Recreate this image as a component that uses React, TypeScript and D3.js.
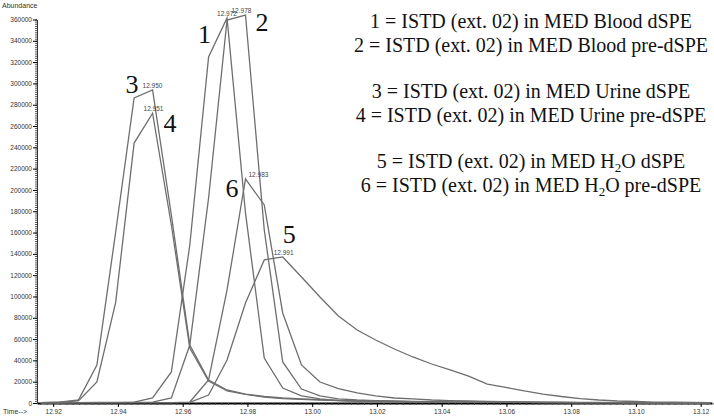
import { useEffect, useRef } from "react";
import * as d3 from "d3";

// scan times (min), shared by all six traces
const scanTimes = [
  12.9163, 12.922, 12.9278, 12.9335, 12.9393, 12.945, 12.9507, 12.9565, 12.9622, 12.968,
  12.9737, 12.9794, 12.9852, 12.9909, 12.9967, 13.0024, 13.0081, 13.0139, 13.0196, 13.0254,
  13.0311, 13.0369, 13.0426, 13.0483, 13.0541, 13.0598, 13.0655, 13.0713, 13.077, 13.0828,
  13.0885, 13.0942, 13.1, 13.1057, 13.1115, 13.1172, 13.123,
];

const bloodDspe = [
  300, 300, 400, 500, 600, 900, 4700, 29100, 148300, 324800, 361400, 178400, 42200, 14100, 6600,
  3800, 2300, 1900, 1500, 1200, 1000, 900, 800, 700, 600, 500, 500, 400, 400, 300, 300, 300, 200,
  200, 200, 200, 200,
];
const bloodPre = [
  200, 300, 300, 300, 400, 500, 900, 4700, 54400, 192400, 359500, 364200, 162400, 38500, 13100,
  6600, 3800, 2800, 2300, 1900, 1500, 1200, 1000, 900, 800, 700, 600, 500, 500, 400, 400, 300, 300,
  300, 200, 200, 200,
];
const urineDspe = [
  300, 900, 2800, 35700, 160500, 286300, 293800, 176500, 54400, 21600, 12200, 8400, 6100, 4700,
  3800, 3100, 2500, 2100, 1800, 1500, 1200, 1000, 900, 800, 700, 600, 500, 500, 400, 400, 300, 300,
  300, 200, 200, 200, 200,
];
const urinePre = [
  300, 900, 1900, 19700, 94400, 244000, 272000, 167100, 51600, 20700, 11300, 8000, 5600, 4200,
  3400, 2800, 2300, 1900, 1600, 1300, 1100, 900, 800, 700, 600, 500, 500, 400, 400, 300, 300, 300,
  200, 200, 200, 200, 200,
];
const waterDspe = [
  200, 200, 300, 300, 300, 300, 300, 300, 500, 7500, 40400, 93900, 134300, 137100, 118300, 99500,
  81700, 68500, 59100, 50700, 43200, 36600, 31000, 25300, 17800, 14600, 11300, 8400, 6100, 4200,
  2800, 1900, 1400, 900, 700, 500, 400,
];
const waterPre = [
  200, 200, 300, 300, 300, 300, 300, 300, 900, 21600, 106100, 210300, 185900, 84500, 35700, 19700,
  13600, 9400, 6600, 4700, 3800, 2800, 2300, 1900, 1500, 1200, 1000, 800, 700, 600, 500, 400, 400,
  300, 300, 200, 200,
];

const traces = [bloodDspe, bloodPre, urineDspe, urinePre, waterDspe, waterPre];
const traceNumbers = ["1", "2", "3", "4", "5", "6"];
const apexLabels = ["12.972", "12.978", "12.950", "12.951", "12.991", "12.983"];

const yTicks = d3.range(0, 360001, 20000);
const xTicks = [12.92, 12.94, 12.96, 12.98, 13.0, 13.02, 13.04, 13.06, 13.08, 13.1, 13.12];

const legendSamples = [
  ["1", "Blood dSPE"],
  ["2", "Blood pre-dSPE"],
  ["3", "Urine dSPE"],
  ["4", "Urine pre-dSPE"],
  ["5", "H2O dSPE"],
  ["6", "H2O pre-dSPE"],
];

export default function App() {
  const ref = useRef<SVGSVGElement>(null);

  useEffect(() => {
    const svg = d3.select(ref.current);
    svg.selectAll("*").remove();

    const x = d3.scaleLinear().domain([12.915, 13.1235]).range([37, 712]);
    const y = d3.scaleLinear().domain([0, 360000]).range([403, 19.5]);

    const tickFont = "'Liberation Sans', Arial, sans-serif";
    const serif = "'Liberation Serif', 'Times New Roman', serif";

    // y axis, minor ticks then major
    svg.append("g")
      .attr("transform", "translate(37,0)")
      .call(d3.axisLeft(y).tickValues(d3.range(0, 362000, 2000)).tickSize(2).tickSizeOuter(0).tickFormat(() => ""))
      .call(g => g.selectAll("line").attr("stroke", "#555"))
      .call(g => g.select(".domain").attr("stroke", "#333"));
    svg.append("g")
      .attr("transform", "translate(37,0)")
      .call(d3.axisLeft(y).tickValues(yTicks).tickSize(4).tickSizeOuter(0).tickPadding(1).tickFormat(d => `${d}`))
      .call(g => g.select(".domain").remove())
      .call(g => g.selectAll("text").attr("font-size", 6.5).attr("font-family", tickFont).attr("fill", "#333"));

    // x axis
    svg.append("g")
      .attr("transform", "translate(0,403)")
      .call(d3.axisBottom(x).tickValues(d3.range(12.916, 13.124, 0.002)).tickSize(2).tickSizeOuter(0).tickFormat(() => ""))
      .call(g => g.selectAll("line").attr("stroke", "#444"))
      .call(g => g.select(".domain").attr("stroke", "#000").attr("stroke-width", 2));
    svg.append("g")
      .attr("transform", "translate(0,403)")
      .call(d3.axisBottom(x).tickValues(xTicks).tickSize(4).tickSizeOuter(0).tickPadding(2).tickFormat(d3.format(".2f")))
      .call(g => g.select(".domain").remove())
      .call(g => g.selectAll("text").attr("font-size", 6.5).attr("font-family", tickFont).attr("fill", "#333"));

    svg.append("text").text("Abundance").attr("x", 2).attr("y", 8)
      .attr("font-size", 7).attr("font-family", tickFont).attr("fill", "#333");
    svg.append("text").text("Time-->").attr("x", 3).attr("y", 414)
      .attr("font-size", 7).attr("font-family", tickFont).attr("fill", "#333");

    // traces
    const line = d3.line<number>().x((_, i) => x(scanTimes[i])).y(d => y(d));
    traces.forEach(vals => {
      svg.append("path").attr("d", line(vals)!)
        .attr("fill", "none").attr("stroke", "#6e6e6e").attr("stroke-width", 1.3);
    });

    // apex retention-time labels
    const labelDx = [-10, -14, -10, -9, -9, 3];
    traces.forEach((vals, i) => {
      const k = d3.maxIndex(vals);
      svg.append("text").text(apexLabels[i])
        .attr("x", x(scanTimes[k]) + labelDx[i]).attr("y", y(vals[k]) - 2)
        .attr("font-size", 6.5).attr("font-family", tickFont).attr("fill", "#444");
    });

    // big trace numbers
    const numPos = [[-29, 25], [10, 16], [-27, 3], [11, 19], [0, -14], [-20, 18]];
    traces.forEach((vals, i) => {
      const k = d3.maxIndex(vals);
      svg.append("text").text(traceNumbers[i])
        .attr("x", x(scanTimes[k]) + numPos[i][0]).attr("y", y(vals[k]) + numPos[i][1])
        .attr("font-size", 26).attr("font-family", serif).attr("fill", "#111");
    });

    // legend text
    const legendY = [28, 52, 98, 122, 168, 192];
    legendSamples.forEach(([n, s], i) => {
      const t = svg.append("text").attr("x", 531).attr("y", legendY[i])
        .attr("text-anchor", "middle").attr("font-size", 20)
        .attr("font-family", serif).attr("fill", "#111");
      if (s.startsWith("H2O")) {
        t.append("tspan").text(`${n} = ISTD (ext. 02) in MED H`);
        t.append("tspan").text("2").attr("font-size", 13).attr("dy", 4);
        t.append("tspan").text(`O${s.slice(3)}`).attr("dy", -4);
      } else {
        t.text(`${n} = ISTD (ext. 02) in MED ${s}`);
      }
    });
  }, []);

  return (
    <div style={{ position: "absolute", left: 0, top: 0 }}>
      <svg ref={ref} width={714} height={418} style={{ display: "block", background: "#fff" }} />
    </div>
  );
}
